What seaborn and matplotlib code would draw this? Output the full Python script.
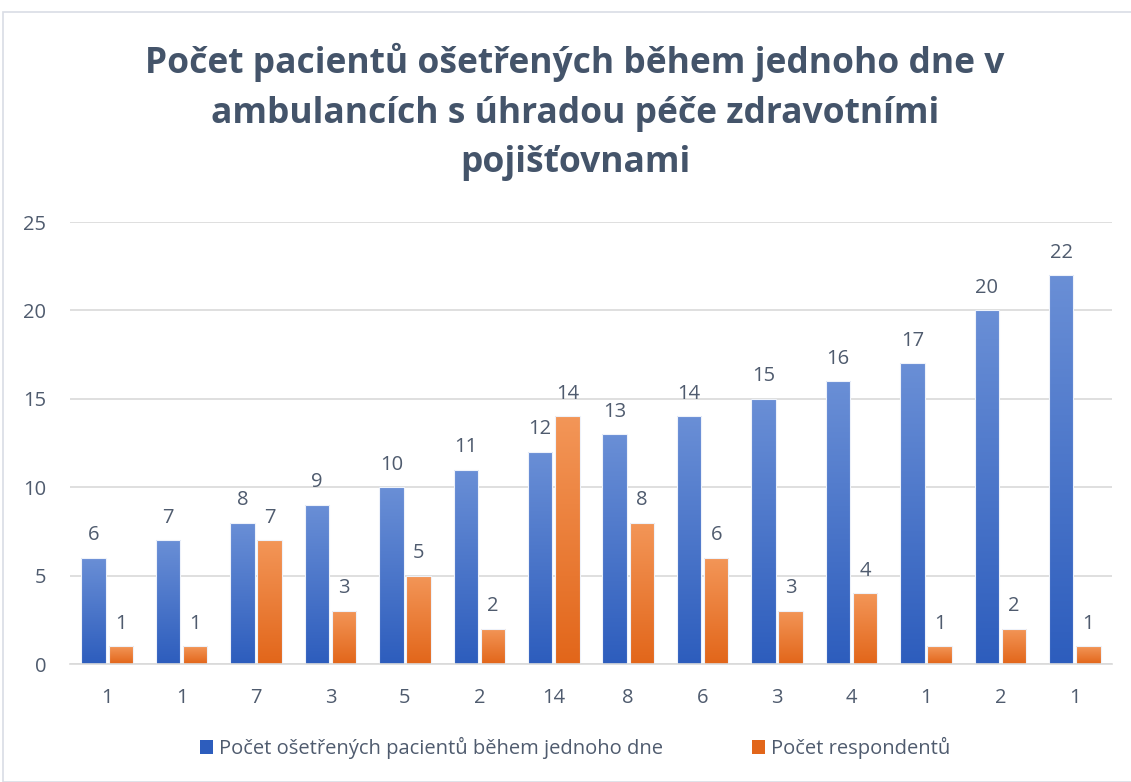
import numpy as np
import pandas as pd
import matplotlib
matplotlib.use("Agg")
import matplotlib.pyplot as plt
import matplotlib.colors as mcolors
from matplotlib.patches import Rectangle, Patch
import seaborn as sns

# ---- data ----
patients = [6, 7, 8, 9, 10, 11, 12, 13, 14, 15, 16, 17, 20, 22]
respondents = [1, 1, 7, 3, 5, 2, 14, 8, 6, 3, 4, 1, 2, 1]
tick_labels = [str(v) for v in respondents]
series_names = ["Počet ošetřených pacientů během jednoho dne", "Počet respondentů"]
title = "Počet pacientů ošetřených během jednoho dne v\nambulancích s úhradou péče zdravotními\npojišťovnami"

df = pd.DataFrame({
    "idx": list(range(len(patients))) * 2,
    "value": patients + respondents,
    "series": [series_names[0]] * len(patients) + [series_names[1]] * len(respondents),
})

blue_top, blue_bot = "#6a8fd6", "#2d5dbd"
orange_top, orange_bot = "#f39658", "#e2661a"
text_col = "#44546a"
tick_col = "#4f5b6e"

sns.set_theme(style="white")
plt.rcParams["font.family"] = ["Open Sans", "DejaVu Sans"]

fig = plt.figure(figsize=(11.31, 7.82), dpi=100)
ax = fig.add_axes([70 / 1131, 1 - 664 / 782, (1112 - 70) / 1131, (664 - 222) / 782])

sns.barplot(data=df, x="idx", y="value", hue="series", palette=[blue_bot, orange_bot],
            width=0.73, gap=0.1, ax=ax, legend=False, saturation=1)

ax.set_ylim(0, 25)
ax.set_xlim(-0.5, len(patients) - 0.5)
ax.set_yticks(range(0, 26, 5))
ax.yaxis.grid(True, color="#d9d9d9", linewidth=1.2)
ax.set_axisbelow(True)
for s in ["top", "right", "left"]:
    ax.spines[s].set_visible(False)
ax.spines["bottom"].set_color("#d9d9d9")
ax.spines["bottom"].set_linewidth(1.2)
ax.set_xlabel("")
ax.set_ylabel("")
ax.set_xticks(range(len(tick_labels)))
ax.set_xticklabels(tick_labels)
ax.tick_params(axis="both", length=0, labelsize=14.5, colors=tick_col)
ax.tick_params(axis="x", pad=17)
ax.tick_params(axis="y", pad=17)

# gradients on bars
n = len(patients)
grad = np.linspace(0, 1, 256).reshape(-1, 1)
for i, patch in enumerate(ax.patches[:2 * n]):
    top, bot = (blue_top, blue_bot) if i < n else (orange_top, orange_bot)
    cmap = mcolors.LinearSegmentedColormap.from_list("g", [bot, top])
    x0, y0 = patch.get_x(), patch.get_y()
    w, h = patch.get_width(), patch.get_height()
    im = ax.imshow(grad, extent=[x0, x0 + w, y0, y0 + h], origin="lower", cmap=cmap,
                   aspect="auto", zorder=patch.get_zorder())
    im.set_clip_path(patch)
    patch.set_facecolor("none")
    patch.set_edgecolor("#eef2fa")
    patch.set_linewidth(0.8)
    patch.set_zorder(patch.get_zorder() + 0.1)
    ax.annotate(f"{int(h)}", (x0 + w / 2, y0 + h), xytext=(0, 9), textcoords="offset points",
                ha="center", va="bottom", fontsize=14.5, color=tick_col)
ax.set_xlim(-0.5, n - 0.5)
ax.set_ylim(0, 25)

fig.text(575 / 1131, 1 - 112 / 782, title, ha="center", va="center", fontsize=25.5,
         fontweight="bold", color=text_col, linespacing=1.5)

handles = [Patch(facecolor=blue_bot, edgecolor="none"), Patch(facecolor=orange_bot, edgecolor="none")]
fig.legend(handles, series_names, loc="center", bbox_to_anchor=(575 / 1131, 1 - 748 / 782), ncol=2,
           frameon=False, fontsize=14.5, handlelength=0.65, handleheight=0.65, handletextpad=0.3,
           columnspacing=4.4, labelcolor=tick_col)

fig.patches.append(Rectangle((3 / 1131, 0), 1.2, 1 - 12 / 782, transform=fig.transFigure,
                             fill=False, edgecolor="#d9dde5", linewidth=1.2))

fig.savefig("out.png", dpi=100, facecolor="white")
